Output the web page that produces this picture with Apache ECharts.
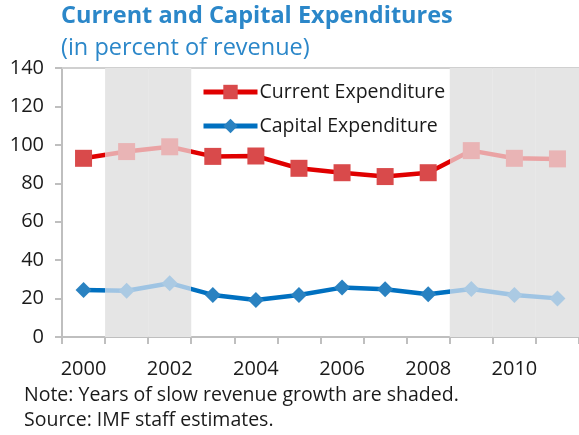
<!DOCTYPE html>
<html>
<head>
<meta charset="utf-8">
<script src="https://cdn.jsdelivr.net/npm/echarts@6/dist/echarts.min.js"></script>
<style>
  html, body { margin: 0; padding: 0; background: #fff; }
  #chart { width: 579px; height: 435px; }
</style>
</head>
<body>
<div id="chart"></div>
<script>
// Fiscal data, percent of revenue
const years = ['2000','2001','2002','2003','2004','2005','2006','2007','2008','2009','2010','2011'];
const currentExp = [93, 96.5, 99, 94, 94.2, 87.8, 85.5, 83.5, 85.5, 97, 93, 92.7];
const capitalExp = [24.5, 24.1, 28, 21.9, 19.3, 21.9, 25.7, 24.8, 22.2, 25, 21.9, 20.1];
// 1 = year of slow revenue growth (shaded)
const slowGrowth = [0, 1, 1, 0, 0, 0, 0, 0, 0, 1, 1, 1];
const yTicks = { min: 0, max: 140, step: 20 };

const FONT = '"Open Sans", "Liberation Sans", sans-serif';
const C = {
  redLine: '#e00000', redMark: '#d94a4b', redLineFade: '#eaa3a4', redMarkFade: '#e9b4b5',
  blueLine: '#0070c0', blueMark: '#2a82c1', blueLineFade: '#9fc4e3', blueMarkFade: '#abcae3',
  shade: '#e5e5e5', axis: '#bfbfbf', text: '#1a1a1a', title: '#2b87c9'
};

// Piecewise colour bands along the year index, split half-way between years
function bands(dark, light) {
  const pieces = [];
  let start = 0;
  for (let i = 1; i <= slowGrowth.length; i++) {
    if (i === slowGrowth.length || slowGrowth[i] !== slowGrowth[start]) {
      const p = { color: slowGrowth[start] ? light : dark };
      if (start > 0) p.gte = start - 0.5;
      if (i < slowGrowth.length) p.lt = i - 0.5;
      pieces.push(p);
      start = i;
    }
  }
  return pieces;
}

// [yearIndex, value] points with faded markers in shaded years
function points(values, dark, light) {
  return values.map((v, i) => ({ value: [i, v], itemStyle: { color: slowGrowth[i] ? light : dark } }));
}

const chart = echarts.init(document.getElementById('chart'));
chart.setOption({
  animation: false,
  textStyle: { fontFamily: FONT },
  title: [
    { text: 'Current and Capital Expenditures', left: 61, top: 4, padding: 0,
      textStyle: { fontFamily: FONT, fontSize: 23.5, fontWeight: 'bold', color: C.title } },
    { text: '(in percent of revenue)', left: 61, top: 36, padding: 0,
      textStyle: { fontFamily: FONT, fontSize: 23.5, fontWeight: 'normal', color: C.title } },
    { text: 'Note: Years of slow revenue growth are shaded.', left: 24, top: 385, padding: 0,
      textStyle: { fontFamily: FONT, fontSize: 19.5, fontWeight: 'normal', color: C.text } },
    { text: 'Source: IMF staff estimates.', left: 24, top: 410, padding: 0,
      textStyle: { fontFamily: FONT, fontSize: 19.5, fontWeight: 'normal', color: C.text } }
  ],
  legend: {
    data: [
      { name: 'Current Expenditure', lineStyle: { color: C.redLine, width: 5 }, itemStyle: { color: C.redMark } },
      { name: 'Capital Expenditure', lineStyle: { color: C.blueLine, width: 5 }, itemStyle: { color: C.blueMark } }
    ],
    orient: 'vertical', left: 196, top: 77, padding: 5,
    itemWidth: 54, itemHeight: 18, itemGap: 14,
    textStyle: { fontFamily: FONT, fontSize: 19.5, color: C.text, padding: [0, 0, 0, -3] }
  },
  grid: { left: 62, top: 68, width: 520, height: 269 },
  visualMap: [
    { type: 'piecewise', show: false, dimension: 0, seriesIndex: 1, pieces: bands(C.redLine, C.redLineFade) },
    { type: 'piecewise', show: false, dimension: 0, seriesIndex: 2, pieces: bands(C.blueLine, C.blueLineFade) }
  ],
  xAxis: [
    { type: 'category', data: years, boundaryGap: true,
      axisLine: { onZero: false, lineStyle: { color: C.axis, width: 2 } },
      axisTick: { show: true, interval: 0, length: 7, lineStyle: { color: C.axis, width: 2 } },
      axisLabel: { interval: 1, margin: 22, fontSize: 20, color: C.text, fontFamily: FONT } },
    { type: 'category', data: years, position: 'top',
      axisLine: { onZero: false, lineStyle: { color: '#d0d0d0', width: 2 } },
      axisTick: { show: false }, axisLabel: { show: false } },
    // numeric year-index axis carrying the two lines (band centres at 0..n-1)
    { type: 'value', show: false, min: -0.5, max: years.length - 0.5, splitLine: { show: false },
      axisLine: { onZero: false } }
  ],
  yAxis: {
    type: 'value', min: yTicks.min, max: yTicks.max, interval: yTicks.step,
    splitLine: { show: false },
    axisLine: { show: true, onZero: false, lineStyle: { color: C.axis, width: 2 } },
    axisTick: { show: true, length: 7, lineStyle: { color: C.axis, width: 2 } },
    axisLabel: { margin: 18, fontSize: 20, color: C.text, fontFamily: FONT }
  },
  series: [
    { name: 'shade', type: 'bar', xAxisIndex: 0, barWidth: '100%', barGap: '-100%', z: 1,
      silent: true, itemStyle: { color: C.shade },
      data: slowGrowth.map(f => f ? yTicks.max : null) },
    { name: 'Current Expenditure', type: 'line', xAxisIndex: 2, z: 3,
      data: points(currentExp, C.redMark, C.redMarkFade),
      symbol: 'rect', symbolSize: 17,
      lineStyle: { width: 4.5 },
      itemStyle: { color: C.redMark } },
    { name: 'Capital Expenditure', type: 'line', xAxisIndex: 2, z: 3,
      data: points(capitalExp, C.blueMark, C.blueMarkFade),
      symbol: 'diamond', symbolSize: 16,
      lineStyle: { width: 4.5 },
      itemStyle: { color: C.blueMark } }
  ]
});
</script>
</body>
</html>
